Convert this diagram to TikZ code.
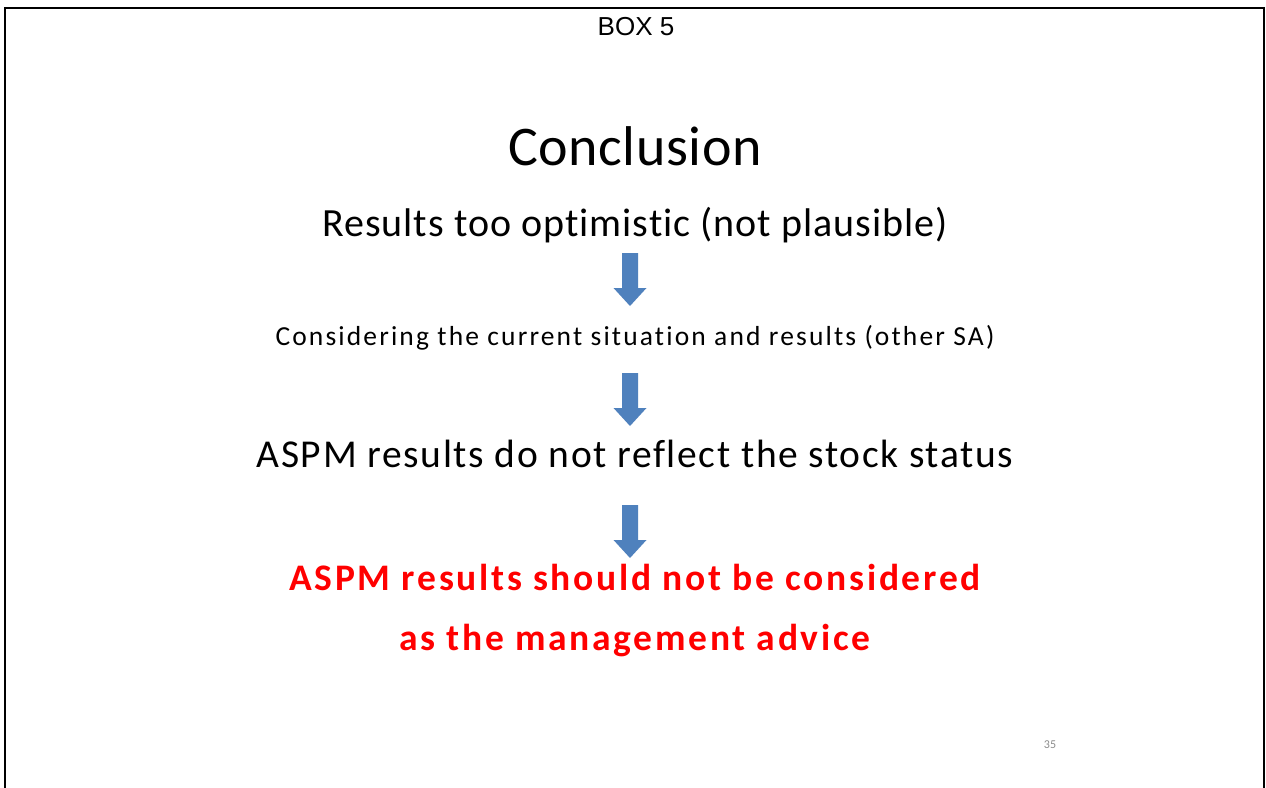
\documentclass[tikz,border=0pt]{standalone}
\usepackage{fontspec}
\setmainfont[Ligatures=NoCommon]{Carlito}
\newfontfamily\arialfont{Liberation Sans}
\definecolor{arrowblue}{HTML}{4F81BD}
\definecolor{redtext}{HTML}{FF0000}
\definecolor{pagenum}{HTML}{8C8C8C}
\tikzset{
  x=1pt, y=-1pt,
  frameline/.style={line width=2pt, black},
  line/.style={anchor=base, inner sep=0pt},
  blockarrow/.pic={
    \fill[arrowblue] (-8,0) -- (8,0) -- (8,35) -- (16.5,35) -- (0,53) -- (-16.5,35) -- (-8,35) -- cycle;
  }
}
\begin{document}
\begin{tikzpicture}
\useasboundingbox (0,0) rectangle (1266,787);
\fill[white] (0,0) rectangle (1266,787);
\draw[frameline] (5,790) -- (5,8) -- (1264,8) -- (1264,790);
\node[line, font=\arialfont\fontsize{26}{30}\selectfont] (box) at (636,35) {BOX 5};
\node[line, font=\fontsize{56}{60}\selectfont\addfontfeature{LetterSpace=1}] (title) at (635,165) {Conclusion};
\node[line, font=\fontsize{40}{44}\selectfont\addfontfeature{LetterSpace=2.5}] (l1) at (635,236) {Results too optimistic (not plausible)};
\node[line, font=\fontsize{27.5}{30}\selectfont\addfontfeature{LetterSpace=7.8}] (l2) at (635,345) {Considering the current situation and results (other SA)};
\node[line, font=\fontsize{39.5}{44}\selectfont\addfontfeature{LetterSpace=4.2}] (l3) at (635,467) {ASPM results do not reflect the stock status};
\node[line, font=\bfseries\fontsize{37.5}{40}\selectfont\addfontfeature{LetterSpace=7.2}, text=redtext] (l4) at (635,590) {ASPM results should not be considered};
\node[line, font=\bfseries\fontsize{37.5}{40}\selectfont\addfontfeature{LetterSpace=7.2}, text=redtext] (l5) at (635,650) {as the management advice};
\node[line, font=\fontsize{12}{14}\selectfont, text=pagenum] (pg) at (1050,748) {35};
\pic at (630,253) {blockarrow};
\pic at (630,373) {blockarrow};
\pic at (630,505) {blockarrow};
\end{tikzpicture}
\end{document}
